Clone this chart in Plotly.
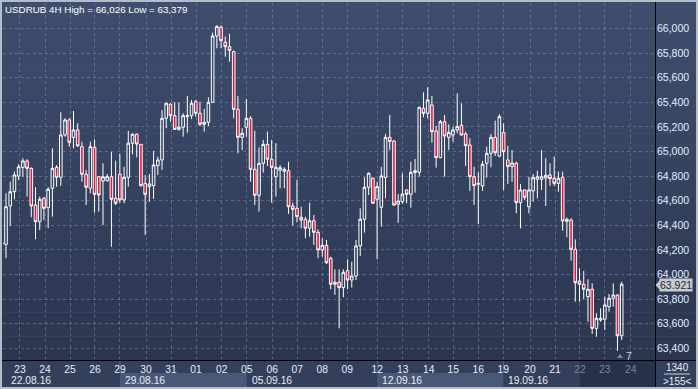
import plotly.graph_objects as go

# ---------------- data (USDRUB 4H, prices in RUB) ----------------
candle_index = list(range(2, 150))
opens = [64.260, 64.245, 64.557, 64.673, 64.801, 64.871, 64.923, 64.863, 64.565, 64.429,
         64.620, 64.543, 64.701, 64.871, 64.790, 65.134, 65.256, 65.115, 65.175, 65.039,
         64.815, 64.701, 65.034, 64.795, 64.760, 64.763, 64.795, 64.620, 64.815, 64.606,
         64.790, 65.067, 65.140, 65.058, 64.741, 64.714, 64.722, 64.885, 64.931, 65.270,
         65.384, 65.291, 65.180, 65.197, 65.283, 65.291, 65.405, 65.311, 65.221, 65.237,
         65.400, 65.939, 66.010, 65.888, 65.852, 65.811, 65.343, 65.115, 65.197, 65.270,
         64.855, 64.644, 64.904, 65.058, 64.937, 64.795, 64.847, 64.839, 64.844, 64.557,
         64.538, 64.465, 64.449, 64.376, 64.437, 64.343, 64.199, 64.237, 64.132, 63.920,
         63.937, 63.893, 64.031, 63.955, 63.988, 64.232, 64.449, 64.709, 64.782, 64.611,
         64.546, 64.790, 65.115, 65.085, 64.571, 64.592, 64.687, 64.652, 64.828, 64.831,
         65.351, 65.310, 65.378, 65.167, 64.950, 65.242, 65.115, 65.134, 65.175, 65.213,
         65.142, 65.053, 64.795, 64.733, 64.720, 64.904, 64.985, 65.115, 64.963, 65.153,
         64.931, 64.877, 64.904, 64.584, 64.687, 64.551, 64.679, 64.774, 64.774, 64.784,
         64.809, 64.782, 64.741, 64.790, 64.432, 64.443, 64.205, 63.947, 63.920, 63.820,
         63.880, 63.562, 63.630, 63.636, 63.738, 63.806, 63.833, 63.502]
highs = [64.300, 64.660, 64.754, 64.836, 64.898, 64.945, 64.937, 64.871, 64.709, 64.633,
         64.628, 64.709, 65.026, 64.890, 65.319, 65.270, 65.270, 65.329, 65.229, 65.080,
         64.850, 65.080, 65.099, 64.801, 64.904, 64.817, 64.998, 64.925, 64.980, 64.876,
         65.167, 65.145, 65.145, 65.060, 64.809, 64.817, 65.004, 64.958, 65.337, 65.397,
         65.392, 65.400, 65.397, 65.311, 65.451, 65.419, 65.419, 65.405, 65.345, 65.440,
         65.966, 66.026, 66.026, 65.934, 65.955, 65.820, 65.451, 65.189, 65.427, 65.289,
         65.169, 65.034, 65.094, 65.161, 65.094, 65.067, 64.890, 64.871, 64.917, 64.584,
         64.768, 64.551, 64.470, 64.584, 64.484, 64.367, 64.294, 64.281, 64.145, 64.042,
         64.042, 64.042, 64.123, 64.104, 64.281, 64.538, 64.790, 64.830, 64.790, 64.754,
         64.876, 65.142, 65.297, 65.094, 64.654, 64.823, 64.690, 64.917, 64.939, 65.365,
         65.481, 65.522, 65.451, 65.207, 65.256, 65.297, 65.221, 65.202, 65.473, 65.392,
         65.161, 65.107, 64.876, 64.831, 64.923, 65.039, 65.142, 65.251, 65.302, 65.229,
         65.045, 65.012, 64.917, 64.736, 64.693, 64.795, 64.817, 64.844, 65.012, 64.945,
         64.904, 64.958, 64.836, 64.836, 64.462, 64.457, 64.286, 64.050, 64.028, 63.961,
         63.928, 63.685, 63.725, 63.820, 63.841, 63.928, 63.838, 63.941]
lows = [64.180, 64.132, 64.394, 64.611, 64.768, 64.795, 64.633, 64.465, 64.286, 64.362,
        64.443, 64.376, 64.470, 64.714, 64.720, 65.120, 65.039, 65.026, 65.039, 64.754,
        64.565, 64.660, 64.503, 64.511, 64.402, 64.754, 64.226, 64.565, 64.584, 64.579,
        64.714, 64.977, 64.953, 64.714, 64.321, 64.592, 64.615, 64.809, 64.850, 65.189,
        65.242, 65.175, 65.169, 65.120, 65.153, 65.264, 65.283, 65.207, 65.161, 65.207,
        65.400, 65.839, 65.839, 65.771, 65.730, 65.270, 64.985, 65.012, 65.120, 64.754,
        64.565, 64.511, 64.828, 64.882, 64.584, 64.633, 64.701, 64.701, 64.492, 64.397,
        64.424, 64.376, 64.294, 64.308, 64.240, 64.132, 64.145, 64.085, 63.880, 63.833,
        63.562, 63.815, 63.880, 63.893, 63.955, 64.150, 64.340, 64.646, 64.573, 64.124,
        64.389, 64.620, 65.012, 64.557, 64.421, 64.573, 64.579, 64.543, 64.665, 64.795,
        65.278, 65.270, 65.071, 64.868, 64.945, 64.795, 65.012, 65.080, 65.148, 65.130,
        64.882, 64.679, 64.565, 64.411, 64.679, 64.787, 64.871, 64.963, 64.953, 64.687,
        64.736, 64.754, 64.497, 64.375, 64.606, 64.497, 64.592, 64.619, 64.687, 64.557,
        64.720, 64.720, 64.673, 64.356, 64.302, 64.112, 63.779, 63.779, 63.798, 63.616,
        63.516, 63.494, 63.616, 63.548, 63.697, 63.738, 63.379, 63.467]
closes = [64.245, 64.551, 64.673, 64.809, 64.876, 64.923, 64.863, 64.557, 64.429, 64.611,
          64.538, 64.693, 64.863, 64.790, 65.134, 65.256, 65.075, 65.175, 65.045, 64.815,
          64.709, 65.039, 64.652, 64.646, 64.795, 64.795, 64.611, 64.579, 64.606, 64.790,
          65.067, 65.140, 65.061, 64.722, 64.652, 64.736, 64.890, 64.931, 65.270, 65.392,
          65.291, 65.180, 65.197, 65.291, 65.291, 65.392, 65.311, 65.221, 65.237, 65.400,
          65.939, 66.015, 65.901, 65.852, 65.820, 65.343, 65.115, 65.148, 65.270, 64.855,
          64.644, 64.904, 65.058, 64.937, 64.871, 64.871, 64.868, 64.855, 64.551, 64.530,
          64.470, 64.443, 64.376, 64.437, 64.343, 64.199, 64.237, 64.096, 63.920, 63.937,
          63.893, 64.018, 63.955, 63.988, 64.232, 64.449, 64.709, 64.823, 64.579, 64.714,
          64.801, 65.115, 65.080, 64.565, 64.597, 64.654, 64.652, 64.831, 64.844, 65.359,
          65.310, 65.419, 65.161, 64.950, 65.242, 65.126, 65.156, 65.175, 65.202, 65.134,
          65.047, 64.795, 64.722, 64.741, 64.896, 64.985, 65.115, 64.990, 65.283, 64.998,
          64.877, 64.906, 64.584, 64.687, 64.628, 64.687, 64.787, 64.795, 64.795, 64.806,
          64.779, 64.741, 64.782, 64.435, 64.449, 64.205, 63.933, 63.920, 63.880, 63.880,
          63.562, 63.644, 63.644, 63.752, 63.806, 63.833, 63.502, 63.921]

day_labels = ["23", "24", "25", "26", "29", "30", "31", "01", "02", "05", "06", "07", "08",
              "09", "12", "13", "14", "15", "16", "19", "20", "21", "22", "23", "24"]
day_start = [6.32, 12.25, 18.18, 24.1, 30.03, 36.2, 42.13, 48.06, 54.15, 60.08, 66.15,
             72.08, 78.0, 83.9, 91.05, 97.07, 103.24, 109.07, 115.0, 120.93, 127.26,
             133.19, 139.1, 145.0, 151.17]
week_labels = ["22.08.16", "29.08.16", "05.09.16", "12.09.16", "19.09.16"]
week_start = [None, 30.03, 60.08, 91.05, 120.93]
shaded_weeks = [1, 3]          # weeks drawn with lighter box
future_from = 139.1            # dark zone in the time scale
y_ticks = [63.4, 63.6, 63.8, 64.0, 64.2, 64.4, 64.6, 64.8, 65.0, 65.2, 65.4, 65.6, 65.8, 66.0]
title_text = "USDRUB 4H High = 66,026 Low = 63,379"
last_price = 63.921

# ---------------- geometry helpers ----------------
W, H = 698, 389
ML, MR, MT, MB = 3, 43, 3, 30
PW, PH = W - ML - MR, H - MT - MB
X_RANGE = [2.29, 156.9]
Y_RANGE = [63.313, 66.207]


def px(x):
    return (x - ML) / PW


def py(y):
    return (H - MB - y) / PH


def hexmix(c1, c2, t):
    a = [int(c1[i:i + 2], 16) for i in (1, 3, 5)]
    b = [int(c2[i:i + 2], 16) for i in (1, 3, 5)]
    return "#%02x%02x%02x" % tuple(round(a[k] + (b[k] - a[k]) * t) for k in range(3))


FONT = "Liberation Sans"
TXT = "#e6eef8"
shapes = []

# vertical gradient behind plot and price scale
top_c, bot_c = "#3f4e6e", "#2b3650"
N = 30
for i in range(N):
    y0 = 2 + (360 - 2) * i / N
    y1 = 2 + (360 - 2) * (i + 1) / N + 0.6
    shapes.append(dict(type="rect", xref="paper", yref="paper", x0=px(2), x1=px(696),
                       y0=py(y1), y1=py(y0), fillcolor=hexmix(top_c, bot_c, (i + 0.5) / N),
                       line=dict(width=0), layer="below"))
# time scale background
shapes.append(dict(type="rect", xref="paper", yref="paper", x0=px(2), x1=px(696),
                   y0=py(387), y1=py(360), fillcolor="#333f5b", line=dict(width=0), layer="below"))
for k in shaded_weeks:
    shapes.append(dict(type="rect", xref="x", yref="paper", x0=week_start[k], x1=week_start[k + 1],
                       y0=py(387), y1=py(373), fillcolor="#4a5878", line=dict(width=0), layer="below"))
shapes.append(dict(type="rect", xref="x", yref="paper", x0=future_from, x1=X_RANGE[1],
                   y0=py(387), y1=py(360), fillcolor="#27314a", line=dict(width=0), layer="below"))
for k in range(1, len(week_start)):
    shapes.append(dict(type="line", xref="x", yref="paper", x0=week_start[k], x1=week_start[k],
                       y0=py(373), y1=py(361), line=dict(color="#5a6889", width=1), layer="below"))
# separators
shapes.append(dict(type="line", xref="paper", yref="paper", x0=px(655.5), x1=px(655.5),
                   y0=py(387), y1=py(2), line=dict(color="#000000", width=1)))
shapes.append(dict(type="line", xref="paper", yref="paper", x0=px(2), x1=px(696),
                   y0=py(360.5), y1=py(360.5), line=dict(color="#000000", width=1)))
# price-tag arrow
shapes.append(dict(type="path", xref="paper", yref="paper",
                   path="M %f %f L %f %f L %f %f Z" % (px(655.5), py(285), px(660), py(280), px(660), py(290)),
                   fillcolor="#c6cad2", line=dict(width=0)))
# small triangle near bar counter
shapes.append(dict(type="path", xref="paper", yref="paper",
                   path="M %f %f L %f %f L %f %f Z" % (px(617), py(358), px(623), py(358), px(620), py(354)),
                   fillcolor="#7e889c", line=dict(width=0)))
# counter separator line
shapes.append(dict(type="line", xref="paper", yref="paper", x0=px(664), x1=px(690),
                   y0=py(374), y1=py(374), line=dict(color="#c8d2e0", width=1)))

fig = go.Figure(go.Candlestick(
    x=candle_index, open=opens, high=highs, low=lows, close=closes,
    increasing=dict(line=dict(color="#ffffff", width=1), fillcolor="rgba(0,0,0,0)"),
    decreasing=dict(line=dict(color="#ffffff", width=1), fillcolor="#e3183f"),
    whiskerwidth=0, hoverinfo="skip", showlegend=False,
))

tick_text = []
for i, lab in enumerate(day_labels):
    if day_start[i] >= future_from - 0.01:
        tick_text.append("<span style='color:#7a8499'>%s</span>" % lab)
    else:
        tick_text.append(lab)

annotations = [
    dict(text=title_text, xref="paper", yref="paper", x=px(3), y=py(9), xanchor="left",
         yanchor="middle", showarrow=False, font=dict(family=FONT, size=9.8, color="#ffffff")),
    dict(text="%.3f" % last_price, xref="paper", yref="paper", x=px(659), y=py(285), xanchor="left",
         yanchor="middle", showarrow=False, bgcolor="#c6cad2", borderpad=0,
         font=dict(family=FONT, size=10.5, color="#2a2a2a")),
    dict(text="7", xref="paper", yref="paper", x=px(629), y=py(355.5), xanchor="center",
         yanchor="middle", showarrow=False, font=dict(family=FONT, size=10.5, color="#c9d8ee")),
    dict(text="1340", xref="paper", yref="paper", x=px(677), y=py(367.5), xanchor="center",
         yanchor="middle", showarrow=False, font=dict(family=FONT, size=10, color=TXT)),
    dict(text="&gt;155&lt;", xref="paper", yref="paper", x=px(677), y=py(381), xanchor="center",
         yanchor="middle", showarrow=False, font=dict(family=FONT, size=10, color=TXT)),
]
for k, lab in enumerate(week_labels):
    if week_start[k] is None:
        ax, xr = px(9), "paper"
    else:
        ax, xr = week_start[k], "x"
    annotations.append(dict(text=lab, xref=xr, yref="paper", x=ax, y=py(380.5), xanchor="left",
                            xshift=3 if xr == "x" else 0, yanchor="middle", showarrow=False,
                            font=dict(family=FONT, size=10.3, color=TXT)))

fig.update_layout(
    width=W, height=H,
    margin=dict(l=ML, r=MR, t=MT, b=MB, pad=0),
    paper_bgcolor="#b4bdca",
    plot_bgcolor="rgba(0,0,0,0)",
    separators=",.",
    boxgap=0.12,
    shapes=shapes,
    annotations=annotations,
    hovermode=False,
    xaxis=dict(range=X_RANGE, rangeslider=dict(visible=False), tickmode="array",
               tickvals=day_start, ticktext=tick_text, ticks="", showgrid=True,
               gridcolor="rgba(125,140,172,0.55)", griddash="3px,3px", gridwidth=1,
               zeroline=False, showline=False, ticklabelstandoff=3,
               tickfont=dict(family=FONT, size=10.3, color=TXT)),
    yaxis=dict(range=Y_RANGE, side="right", tickmode="array", tickvals=y_ticks,
               tickformat=".3f", ticks="", showgrid=True,
               gridcolor="rgba(125,140,172,0.55)", griddash="3px,3px", gridwidth=1,
               zeroline=False, showline=False, ticklabelstandoff=1,
               tickfont=dict(family=FONT, size=10.5, color=TXT)),
)

fig.write_html(
    "out.html",
    config={"displayModeBar": False, "staticPlot": True},
    post_script="document.body.style.margin='0';document.body.style.overflow='hidden';",
)
